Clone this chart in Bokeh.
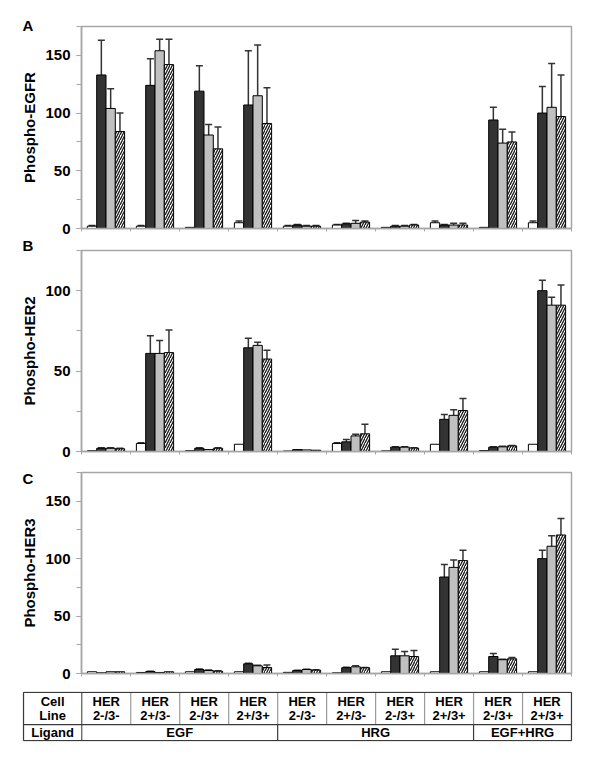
from bokeh.plotting import figure
from bokeh.layouts import column
from bokeh.models import ColumnDataSource, Whisker, TeeHead, SingleIntervalTicker, FixedTicker, Range1d
from bokeh.embed import file_html
from bokeh.resources import INLINE
from bokeh.core.properties import value

# ---------------- data ----------------
cell_line_top = ["HER"] * 10
cell_line_bottom = ["2-/3-", "2+/3-", "2-/3+", "2+/3+",
                    "2-/3-", "2+/3-", "2-/3+", "2+/3+",
                    "2-/3+", "2+/3+"]
ligand_names = ["EGF", "HRG", "EGF+HRG"]
ligand_counts = [4, 4, 2]

# Panel A: Phospho-EGFR
egfr_s1 = [2, 2, 1, 5, 2, 3, 1, 5, 1, 5]
egfr_s2 = [133, 124, 119, 107, 3, 4, 2, 3, 94, 100]
egfr_s3 = [104, 154, 81, 115, 2, 4.5, 2, 3, 74, 105]
egfr_s4 = [84, 142, 69, 91, 2, 5.5, 3, 3, 75, 97]
egfr_e1 = [0.5, 0.5, 0, 1.5, 0.5, 0.5, 0, 1.5, 0, 1.5]
egfr_e2 = [30, 23, 22, 47, 0.5, 0.5, 0.5, 0.5, 11, 23]
egfr_e3 = [17, 10, 9, 44, 0.5, 2.5, 0.5, 1.5, 12, 38]
egfr_e4 = [16, 22, 19, 31, 0.5, 1, 0.5, 1.5, 8.5, 36]

# Panel B: Phospho-HER2
her2_s1 = [0.5, 5, 0.5, 4.5, 0.3, 5, 0.4, 4.5, 0.6, 4.5]
her2_s2 = [2, 61, 2, 64.5, 1.2, 6, 2.7, 20, 2.7, 100]
her2_s3 = [2, 61, 1.2, 66, 1, 9.7, 2.7, 22.5, 2.9, 91]
her2_s4 = [1.7, 61.5, 2, 57.5, 0.8, 11, 2.1, 25.5, 3.5, 91]
her2_e1 = [0, 0.5, 0, 0, 0, 0.5, 0, 0, 0, 0]
her2_e2 = [0.3, 11, 0.3, 6, 0.2, 1.5, 0.3, 3, 0.3, 6.5]
her2_e3 = [0.3, 8, 0.2, 2, 0.2, 1, 0.3, 3.5, 0.3, 5]
her2_e4 = [0.3, 14, 0.3, 5.5, 0.2, 6, 0.3, 7.5, 0.3, 12.5]

# Panel C: Phospho-HER3
her3_s1 = [1.5, 0.9, 1.5, 1.5, 1, 0.6, 1.5, 1.5, 1.5, 1.5]
her3_s2 = [0.6, 1.7, 3.5, 8.4, 2.6, 5, 15.4, 84, 14.8, 100]
her3_s3 = [1.5, 0.9, 2.6, 6.7, 3.5, 5.8, 15.4, 92.4, 12, 110.8]
her3_s4 = [1.5, 1.5, 2, 5.2, 2.9, 5, 14.8, 98.3, 12.8, 120.6]
her3_e1 = [0, 0, 0, 0, 0, 0, 0, 0, 0, 0]
her3_e2 = [0.2, 0.3, 0.5, 0.5, 0.3, 0.5, 5.8, 11, 2.6, 7.3]
her3_e3 = [0.2, 0.2, 0.4, 0.5, 0.3, 0.9, 3.8, 6.4, 0.4, 9.2]
her3_e4 = [0.2, 0.2, 0.5, 2.1, 0.3, 0.3, 5.2, 9, 1.2, 14.3]

FONT = "Liberation Sans"
AXIS_GRAY = "#a6a6a6"
BAR_W = 0.19
N = len(cell_line_bottom)
FIG_W = 592

styles = [
    dict(fill_color="white"),
    dict(fill_color="#333333"),
    dict(fill_color="#c0c0c0"),
    dict(fill_color="white", hatch_pattern="/", hatch_scale=5,
         hatch_color="#1a1a1a", hatch_weight=1.3),
]


def make_panel(letter, ylabel, ymax, series, errors, top_border, frame_h,
               bottom_border, title_standoff):
    p = figure(output_backend="svg", toolbar_location=None,
               width=FIG_W, height=top_border + frame_h + bottom_border,
               x_range=Range1d(0, N), y_range=Range1d(0, ymax),
               min_border_left=81, min_border_right=21,
               min_border_top=top_border, min_border_bottom=bottom_border,
               background_fill_color="white", border_fill_color="white",
               title=letter)
    p.frame_align = False
    p.grid.visible = False
    p.outline_line_color = AXIS_GRAY
    p.outline_line_width = 1.5

    p.title.text_font = FONT
    p.title.text_font_style = "bold"
    p.title.text_font_size = "15px"
    p.title.text_color = "black"
    p.title.align = "left"
    p.title.offset = -59
    p.title.standoff = title_standoff

    for j, (vals, errs) in enumerate(zip(series, errors)):
        xs = [i + 0.5 + (j - 1.5) * BAR_W for i in range(N)]
        src = ColumnDataSource(dict(x=xs, top=vals))
        p.vbar(x="x", top="top", bottom=0, width=BAR_W, source=src,
               line_color="black", line_width=1, **styles[j])
        ex = [x for x, e in zip(xs, errs) if e > 0.25]
        lo = [v for v, e in zip(vals, errs) if e > 0.25]
        up = [v + e for v, e in zip(vals, errs) if e > 0.25]
        if ex:
            esrc = ColumnDataSource(dict(x=ex, lower=lo, upper=up))
            w = Whisker(source=esrc, base="x", lower="lower", upper="upper",
                        dimension="height", line_color="#333333",
                        line_width=1.5, lower_head=None,
                        upper_head=TeeHead(size=7, line_color="#333333",
                                           line_width=1.5))
            p.add_layout(w)

    # y axis
    yax = p.yaxis[0]
    yax.ticker = SingleIntervalTicker(interval=50, num_minor_ticks=2)
    yax.axis_line_color = AXIS_GRAY
    yax.axis_line_width = 1.5
    yax.major_tick_line_color = AXIS_GRAY
    yax.minor_tick_line_color = AXIS_GRAY
    yax.major_tick_out = 5
    yax.major_tick_in = 0
    yax.minor_tick_out = 5
    yax.minor_tick_in = 0
    yax.major_label_text_font = FONT
    yax.major_label_text_font_style = "bold"
    yax.major_label_text_font_size = "15px"
    yax.major_label_text_color = "black"
    yax.major_label_standoff = 6
    yax.axis_label = ylabel
    yax.axis_label_text_font = FONT
    yax.axis_label_text_font_style = "bold"
    yax.axis_label_text_font_size = "15px"
    yax.axis_label_text_color = "black"
    yax.axis_label_standoff = 4

    # x axis: ticks at group boundaries only
    xax = p.xaxis[0]
    xax.ticker = FixedTicker(ticks=list(range(N + 1)))
    xax.axis_line_color = AXIS_GRAY
    xax.axis_line_width = 1.5
    xax.major_tick_line_color = AXIS_GRAY
    xax.major_tick_out = 3
    xax.major_tick_in = 0
    xax.minor_tick_line_color = None
    xax.major_label_text_font_size = "1px"
    xax.major_label_text_color = None
    xax.major_label_standoff = 0
    return p


pA = make_panel("A", "Phospho-EGFR", 175,
                [egfr_s1, egfr_s2, egfr_s3, egfr_s4],
                [egfr_e1, egfr_e2, egfr_e3, egfr_e4], 26, 202, 10, -14)
pB = make_panel("B", "Phospho-HER2", 125,
                [her2_s1, her2_s2, her2_s3, her2_s4],
                [her2_e1, her2_e2, her2_e3, her2_e4], 11, 202, 10, -7)
pC = make_panel("C", "Phospho-HER3", 175,
                [her3_s1, her3_s2, her3_s3, her3_s4],
                [her3_e1, her3_e2, her3_e3, her3_e4], 11, 201, 10, -28)

# ---------------- table ----------------
LEFT = -1.19
t = figure(output_backend="svg", toolbar_location=None,
           width=FIG_W, height=62,
           x_range=Range1d(-1.21, N + 0.02), y_range=Range1d(-0.05, 3.05),
           min_border_left=22, min_border_right=20,
           min_border_top=8, min_border_bottom=4,
           background_fill_color="white", border_fill_color="white")
t.frame_align = False
t.axis.visible = False
t.grid.visible = False
t.outline_line_color = None

DARK = "#3a3a3a"
LIGHT = "#9a9a9a"
# inner cell-line separators (light)
t.segment(x0=list(range(1, N)), y0=[1] * (N - 1), x1=list(range(1, N)),
          y1=[3] * (N - 1), line_color=LIGHT, line_width=1.2)
# ligand boundaries
bounds = []
acc = 0
for c in ligand_counts[:-1]:
    acc += c
    bounds.append(acc)
t.segment(x0=bounds, y0=[0] * len(bounds), x1=bounds, y1=[1] * len(bounds),
          line_color=DARK, line_width=1.2)
# label column line
t.segment(x0=[0], y0=[0], x1=[0], y1=[3], line_color="#555555", line_width=1.2)
# outer frame and row separator
t.segment(x0=[LEFT, LEFT, LEFT, LEFT, N], y0=[0, 1, 3, 0, 0],
          x1=[N, N, N, LEFT, N], y1=[0, 1, 3, 3, 3],
          line_color=DARK, line_width=1.3)

txt = dict(text_font=value(FONT), text_font_style="bold",
           text_font_size="13px", text_color="black",
           text_align="center", text_baseline="middle")
centers = [i + 0.5 for i in range(N)]
t.text(x=centers, y=[2.45] * N, text=cell_line_top, **txt)
t.text(x=centers, y=[1.55] * N, text=cell_line_bottom, **txt)
lab_x = (LEFT + 0) / 2
t.text(x=[lab_x, lab_x, lab_x], y=[2.45, 1.55, 0.5],
       text=["Cell", "Line", "Ligand"], **txt)
lig_x = []
acc = 0
for c in ligand_counts:
    lig_x.append(acc + c / 2)
    acc += c
t.text(x=lig_x, y=[0.5] * len(lig_x), text=ligand_names, **txt)

layout = column(pA, pB, pC, t, spacing=0)

open("out.html", "w").write(file_html(layout, INLINE))
